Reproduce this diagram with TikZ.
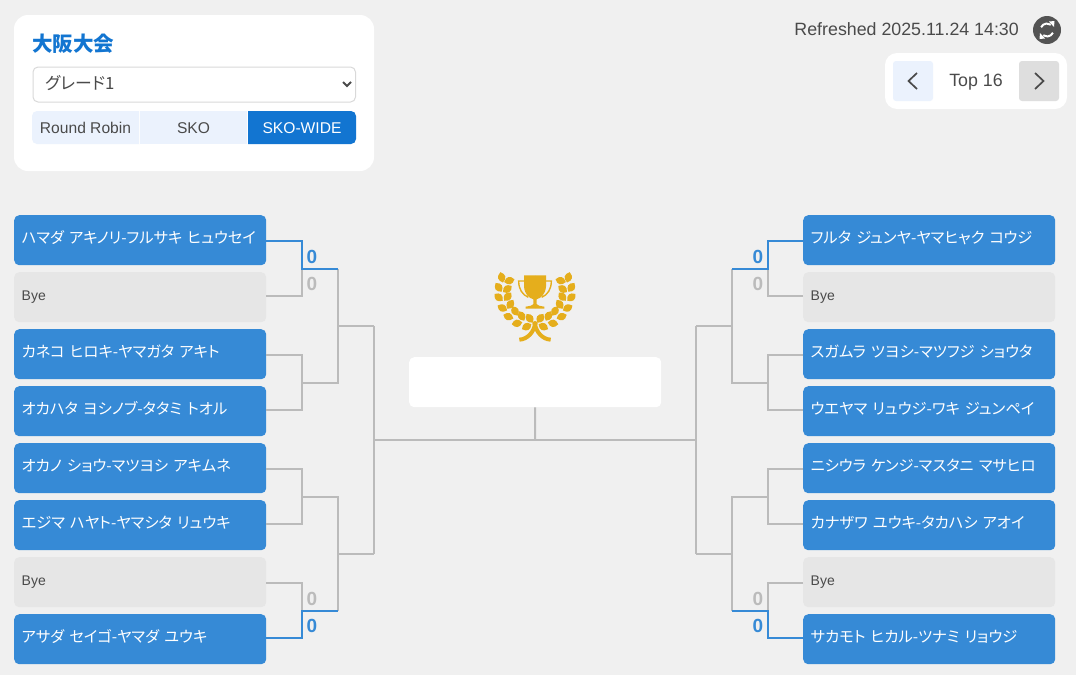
\documentclass[tikz,border=0pt]{standalone}
\usepackage{fontspec}
\setmainfont{Liberation Sans}
\newfontfamily\jpfont[RawFeature=+palt]{Noto Sans CJK JP}
\usetikzlibrary{arrows.meta}
\definecolor{pagegrey}{HTML}{F0F0F0}
\definecolor{teamblue}{HTML}{368AD6}
\definecolor{tabblue}{HTML}{1275D1}
\definecolor{tabpale}{HTML}{EBF2FD}
\definecolor{byegrey}{HTML}{E6E6E6}
\definecolor{linegrey}{HTML}{BBBBBB}
\definecolor{inkgrey}{HTML}{4A4A4A}
\definecolor{trophygold}{HTML}{E5AE1C}
\tikzset{
  teamtext/.style={text width=237pt, inner xsep=7.5pt, inner ysep=0pt, minimum height=50pt, align=left,
    text height=12pt, text depth=6pt, rounded corners=5pt, anchor=north west},
  teambox/.style={teamtext, fill=teamblue, text=white, font=\fontsize{15.3}{15.5}\jpfont},
  byebox/.style={teamtext, fill=byegrey, text=inkgrey, font=\fontsize{14}{14}\selectfont},
  inktext/.style={text=inkgrey, inner sep=0pt, anchor=base, font=\fontsize{15.6}{16}\selectfont},
  bigtext/.style={inktext, font=\fontsize{17.8}{18}\selectfont},
  bracket/.style={draw=linegrey, line width=2pt},
  winbracket/.style={draw=teamblue, line width=2pt},
  winscore/.style={text=teamblue, inner sep=0pt, anchor=base, font=\fontsize{19}{19}\bfseries},
  lostscore/.style={text=linegrey, inner sep=0pt, anchor=base, font=\fontsize{19}{19}\bfseries},
  chevron/.style={draw=inkgrey, line width=1.7pt}
}
\begin{document}
\begin{tikzpicture}[x=1pt,y=-1pt]
  \useasboundingbox (0,0) rectangle (1076,675);
  \fill [pagegrey] (0,0) rectangle (1076,675);

  % settings panel
  \fill [white, rounded corners=14pt] (14,15) rectangle (374,171);
  \node [anchor=base west, inner sep=0pt, text=tabblue, font=\fontsize{20.5}{20}\jpfont\bfseries] (title) at (32,51) {大阪大会};
  \node [draw=black!15, fill=white, line width=1pt, rounded corners=5pt, minimum width=322.5pt, minimum height=35pt, inner sep=0pt, anchor=north west] (gradesel) at (32.5,66.5) {};
  \node [anchor=base west, inner sep=0pt, text=inkgrey, font=\fontsize{16.8}{16}\jpfont] (gradetext) at (45,89) {グレード1};
  \draw [draw=inkgrey, line width=1.9pt] (343,82) -- (347,86) -- (351,82);
  \fill [tabpale] (139,111) [rounded corners=5pt] -- (32,111) -- (32,144) [sharp corners] -- (139,144) -- cycle;
  \fill [tabpale] (140,111) rectangle (247,144);
  \fill [tabblue] (248,144) [rounded corners=5pt] -- (356,144) -- (356,111) [sharp corners] -- (248,111) -- cycle;
  \node [inktext] (tabrobin) at (85.5,133) {Round Robin};
  \node [inktext] (tabsko) at (193.5,133) {SKO};
  \node [inktext, text=white] (tabwide) at (302,133) {SKO-WIDE};

  % refresh and round switch
  \node [bigtext, anchor=base east] (refreshed) at (1019,35) {Refreshed 2025.11.24 14:30};
  \fill [inkgrey!95] (1047,30) circle (14);
  \foreach \rot in {0,180} {
    \begin{scope}[rotate around={\rot:(1047,30)}]
      \draw [white, line width=2pt] (1041.1,27.25) arc [start angle=205, end angle=305, radius=6.5];
      \fill [white] (1049,21.5) -- (1054.5,21) -- (1054,27) -- cycle;
    \end{scope}
  }
  \fill [white, rounded corners=12pt] (885,53) rectangle (1067,109);
  \fill [tabpale, rounded corners=3pt] (893,61) rectangle (933,101);
  \fill [black!13, rounded corners=3pt] (1019,61) rectangle (1059,101);
  \draw [chevron] (917,73) -- (908.5,81) -- (917,89);
  \draw [chevron] (1035,73) -- (1043.5,81) -- (1035,89);
  \node [bigtext] (roundname) at (976,86) {Top 16};

  % teams
  \foreach \s/\sx/\an/\i/\st/\off/\txt in {
    l/14/east/1/teambox/-0.7/ハマダ アキノリ-フルサキ ヒュウセイ,
    l/14/east/2/byebox/1/Bye,
    l/14/east/3/teambox/-1/カネコ ヒロキ-ヤマガタ アキト,
    l/14/east/4/teambox/1/オカハタ ヨシノブ-タタミ トオル,
    l/14/east/5/teambox/-1/オカノ ショウ-マツヨシ アキムネ,
    l/14/east/6/teambox/1/エジマ ハヤト-ヤマシタ リュウキ,
    l/14/east/7/byebox/-0.7/Bye,
    l/14/east/8/teambox/1.3/アサダ セイゴ-ヤマダ ユウキ,
    r/803/west/1/teambox/-0.7/フルタ ジュンヤ-ヤマヒャク コウジ,
    r/803/west/2/byebox/1/Bye,
    r/803/west/3/teambox/-1/スガムラ ツヨシ-マツフジ ショウタ,
    r/803/west/4/teambox/1/ウエヤマ リュウジ-ワキ ジュンペイ,
    r/803/west/5/teambox/-1/ニシウラ ケンジ-マスタニ マサヒロ,
    r/803/west/6/teambox/1/カナザワ ユウキ-タカハシ アオイ,
    r/803/west/7/byebox/-0.7/Bye,
    r/803/west/8/teambox/1.3/サカモト ヒカル-ツナミ リョウジ} {
    \node [\st] (\s\i) at (\sx,{215+57*(\i-1)}) {\mbox{\txt}};
    \coordinate (\s\i p) at ([yshift=\off pt]\s\i.\an);
  }

  % final box
  \node [fill=white, rounded corners=5pt, minimum width=252pt, minimum height=50pt, inner sep=0pt, anchor=north west] (champ) at (409,357) {};
  \coordinate (hub) at (535,440);
  \coordinate (hubl) at (374,440);
  \coordinate (hubr) at (696,440);
  \draw [bracket] (champ.south) -- (hub);
  \draw [bracket] (hubl) -- (hubr);

  % brackets, left side then right side
  \foreach \s/\ja/\jb/\jc in {l/302/338/374, r/767.7/731.7/696} {
    \coordinate (\s a1) at (\ja,268.7);
    \coordinate (\s a2) at (\ja,383);
    \coordinate (\s a3) at (\ja,496.7);
    \coordinate (\s a4) at (\ja,610.7);
    \coordinate (\s b1) at (\jb,268.7);
    \coordinate (\s b2) at (\jb,383);
    \coordinate (\s b3) at (\jb,496.7);
    \coordinate (\s b4) at (\jb,610.7);
    \coordinate (\s c1) at (\jb,326.3);
    \coordinate (\s c2) at (\jb,553.7);
    \coordinate (\s d1) at (\jc,326.3);
    \coordinate (\s d2) at (\jc,553.7);
    \draw [bracket] (\s2p) -| (\s a1);
    \draw [bracket] (\s3p) -| (\s a2);
    \draw [bracket] (\s4p) -| (\s a2);
    \draw [bracket] (\s5p) -| (\s a3);
    \draw [bracket] (\s6p) -| (\s a3);
    \draw [bracket] (\s7p) -| (\s a4);
    \draw [bracket] (\s a2) -- (\s b2) -- (\s b1);
    \draw [bracket] (\s a3) -- (\s b3) -- (\s b4);
    \draw [bracket] (\s c1) -- (\s d1);
    \draw [bracket] (\s c2) -- (\s d2);
    \draw [bracket] (\s d1) -- (\s d2);
    \draw [winbracket] (\s1p) -| (\s a1) -- (\s b1);
    \draw [winbracket] (\s8p) -| (\s a4) -- (\s b4);
  }

  % scores
  \node [winscore] (lwin1) at (312,263.5) {0};
  \node [lostscore] (llost1) at (312,290.5) {0};
  \node [lostscore] (llost4) at (312,605.5) {0};
  \node [winscore] (lwin4) at (312,632.5) {0};
  \node [winscore] (rwin1) at (758,263.5) {0};
  \node [lostscore] (rlost1) at (758,290.5) {0};
  \node [lostscore] (rlost4) at (758,605.5) {0};
  \node [winscore] (rwin4) at (758,632.5) {0};

  % trophy and wreath, drawn at 3 units per pixel
  \begin{scope}[shift={(535,260)}, x=0.3333pt, y=-0.3333pt]
    \foreach \mir in {1,-1} {
      \begin{scope}[xscale=\mir]
        \foreach \lx/\ly/\ang in {-100/52/104, -77/62/15, -109/82/125, -83/87/35, -109/112/140, -82/110/50,
          -98/144/-27, -74/133/56, -60/153/-60, -80/170/-20, -40/168/-62, -54/190/10, -16/175/-55, -25/200/28} {
          \fill [trophygold, shift={(\lx,\ly)}, rotate=\ang] (-16,0) .. controls (-6,-15) and (6,-15) .. (16,0) .. controls (6,15) and (-6,15) .. cycle;
        }
        \fill [trophygold] (0,46) -- (33,46) -- (33,80) .. controls (31,103) and (18,114) .. (5,118) -- (5,132) .. controls (8,136) and (18,140) .. (28,140) -- (28,146) -- (0,146) -- cycle;
        \draw [trophygold, line width=1.4pt] (33,63) -- (49,63) .. controls (49,88) and (38,104) .. (20,112);
        \draw [trophygold, line width=4pt] (0,192) .. controls (3,215) and (22,238) .. (47,239);
      \end{scope}
    }
    \fill [trophygold] (0,191) circle (8);
  \end{scope}
\end{tikzpicture}
\end{document}
